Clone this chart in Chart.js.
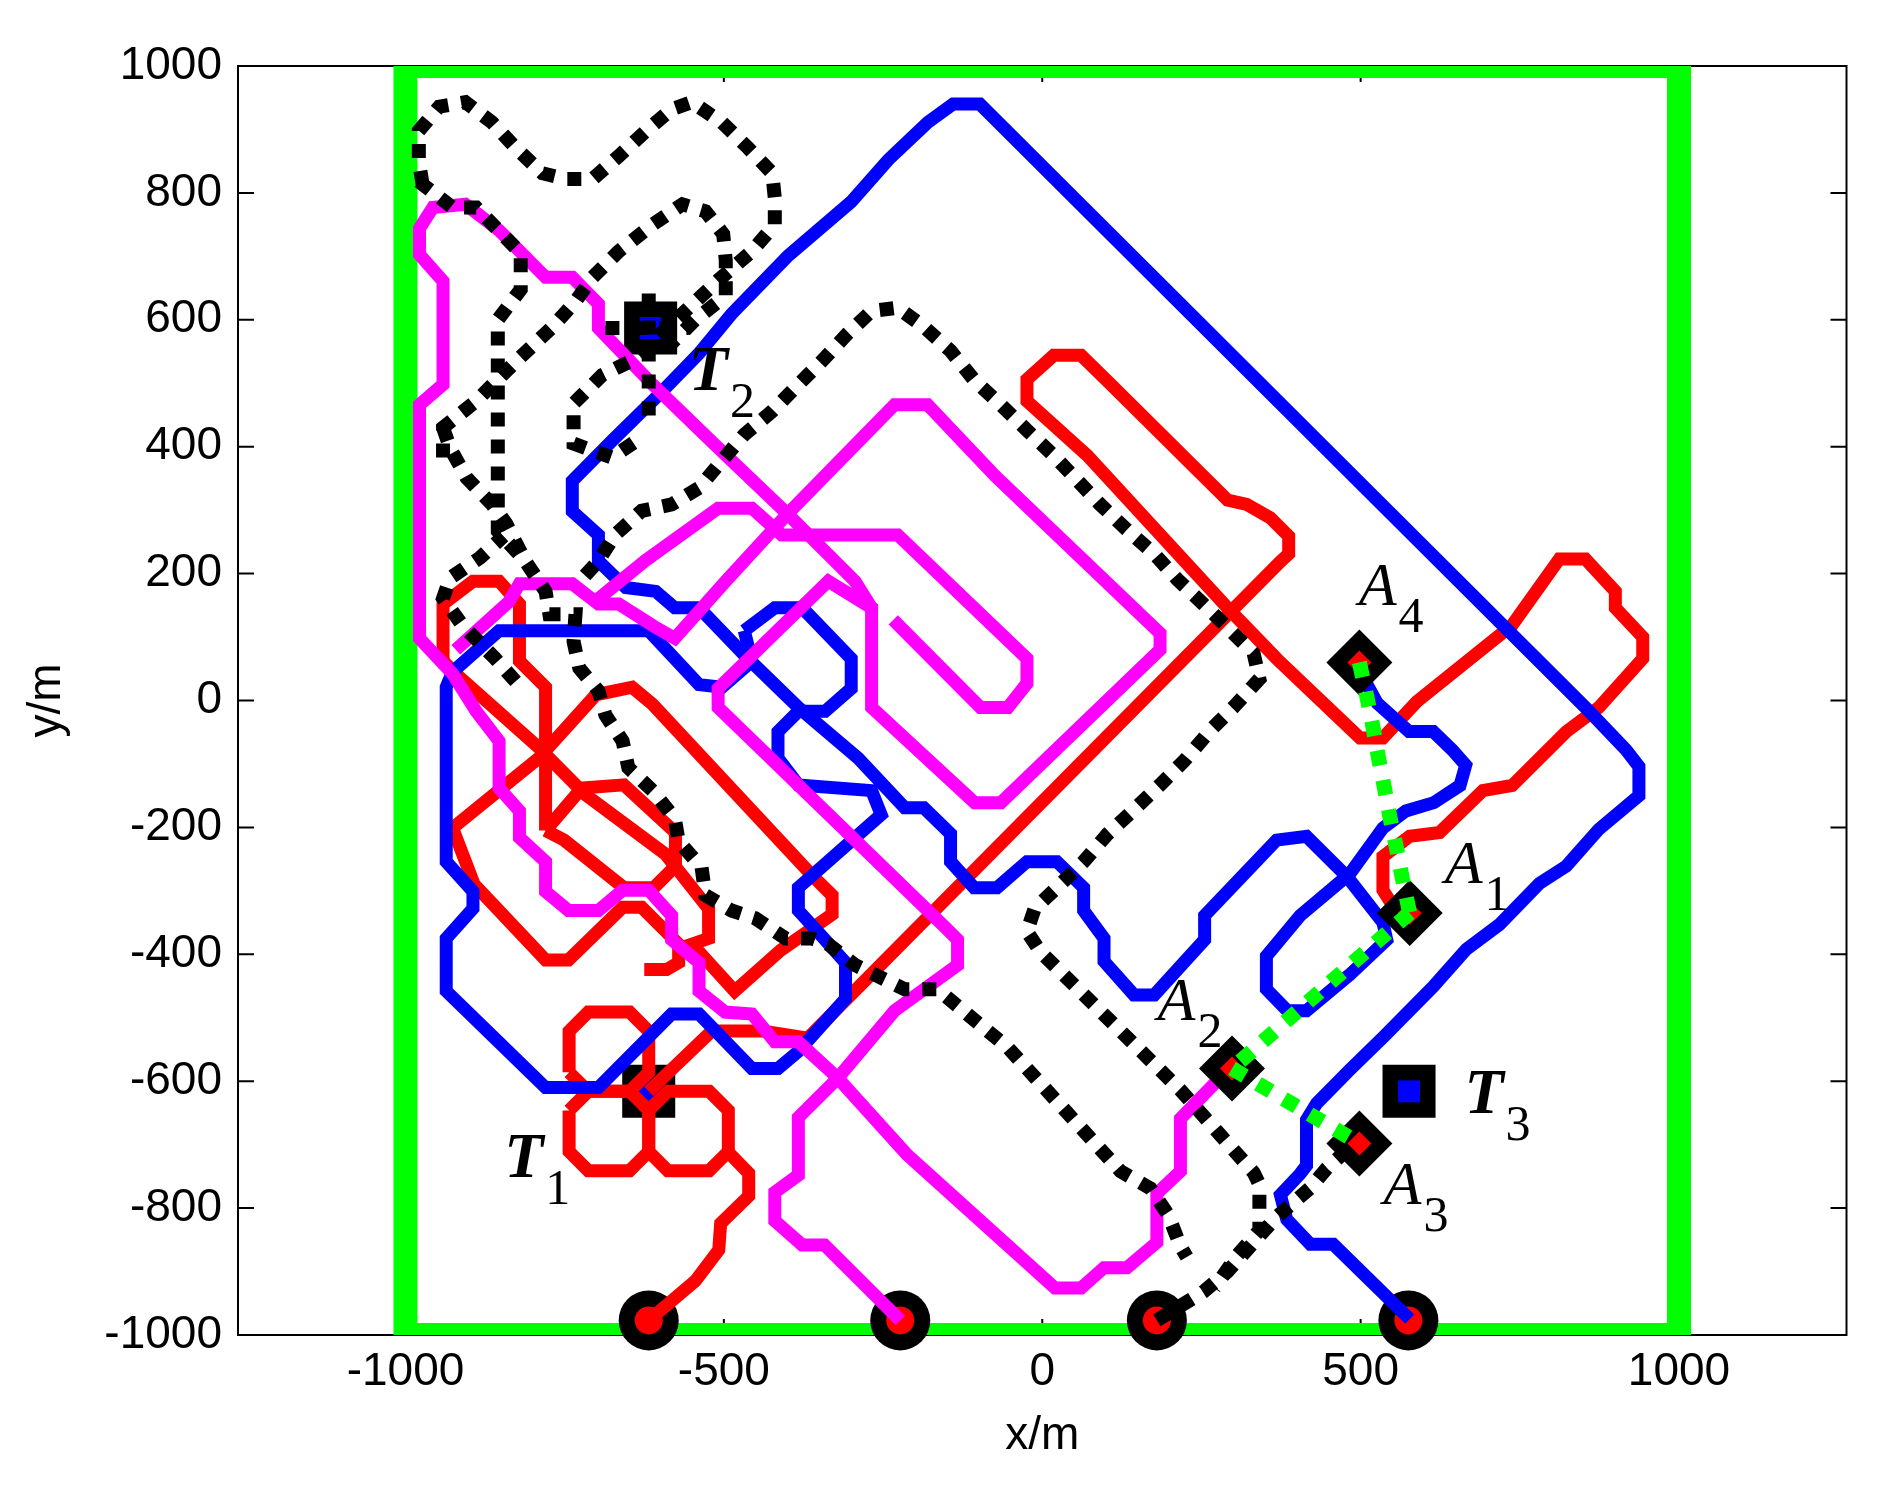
<!DOCTYPE html>
<html>
<head>
<meta charset="utf-8">
<script src="https://cdn.jsdelivr.net/npm/chart.js@4.4.0/dist/chart.umd.min.js"></script>
<style>
  html, body { margin: 0; padding: 0; background: #fff; }
  canvas { display: block; }
</style>
</head>
<body>
<canvas id="plot" width="1884" height="1485"></canvas>
<script>
// axis ticks
const xTicks = [-1000, -500, 0, 500, 1000];
const yTicks = [-1000, -800, -600, -400, -200, 0, 200, 400, 600, 800, 1000];

// search area border
const border = [[-1000,-1000],[1000,-1000],[1000,1000],[-1000,1000],[-1000,-1000]];

// red agent track (pieces)
const redStart = [[-618,-977],[-545,-915],[-508,-866],[-505,-824],[-461,-781],[-461,-745],[-493,-712]];
const redLoopUL = [[-743,-586],[-743,-521],[-713,-491],[-648,-491],[-618,-521],[-618,-586],[-648,-616],[-713,-616],[-743,-586]];
const redLoopLL = [[-743,-646],[-743,-711],[-713,-741],[-648,-741],[-618,-711],[-618,-646],[-648,-616],[-713,-616],[-743,-646]];
const redLoopLR = [[-618,-646],[-618,-711],[-588,-741],[-523,-741],[-493,-711],[-493,-646],[-523,-616],[-588,-616],[-618,-646]];
const redT1 = [[-618,-616],[-519,-521],[-440,-521],[-368,-532]];
const redUpper = [[-941,62],[-941,152],[-894,188],[-853,188],[-821,152],[-821,62],[-780,21],[-780,-174],[-780,-205]];
const redMid = [[-941,62],[-921,42],[-791,-74],[-718,-148],[-592,-242],[-524,-328],[-524,-375],[-550,-384],[-483,-458],[-411,-394],[-368,-364],[-330,-337],[-330,-307],[-362,-275],[-612,-6],[-644,21],[-701,9],[-791,-91],[-926,-201],[-892,-290],[-780,-409],[-744,-409],[-659,-326],[-629,-326],[-571,-384],[-571,-413],[-590,-424],[-625,-424]];
const redOval = [[-780,-205],[-723,-138],[-657,-133],[-576,-208],[-576,-261],[-610,-295],[-657,-295],[-751,-220],[-780,-205]];
const redLong = [[-368,-532],[373,218],[387,231],[387,259],[358,288],[321,309],[291,316],[108,498],[61,544],[18,544],[-24,506],[-24,472],[71,386],[291,146],[368,66],[499,-59],[535,-59],[588,-2],[738,119],[812,223],[853,223],[900,172],[900,146],[943,100],[943,66],[874,-11],[823,-49],[738,-134],[692,-142],[624,-208],[577,-214],[535,-246],[535,-299],[552,-326]];

// blue agent track
const blueMain = [[577,-975],[457,-857],[421,-857],[384,-818],[374,-779],[405,-746],[415,-733],[415,-661],[431,-635],[483,-582],[536,-530],[614,-451],[666,-392],[718,-353],[781,-288],[823,-261],[874,-203],[937,-150],[937,-104],[917,-78],[854,-12],[-98,940],[-140,940],[-180,911],[-242,852],[-300,786],[-399,701],[-488,609],[-540,546],[-602,482],[-676,409],[-738,346],[-738,298],[-697,261],[-697,220],[-654,178],[-607,172],[-577,146],[-539,146],[-468,72],[-383,-11],[-289,-91],[-216,-169],[-186,-169],[-144,-210],[-144,-254],[-107,-295],[-71,-295],[-24,-254],[23,-254],[65,-295],[65,-331],[97,-375],[97,-411],[144,-464],[176,-464],[255,-377],[255,-339],[368,-220],[415,-214],[479,-278],[535,-350],[541,-377],[483,-432],[415,-489],[385,-489],[352,-455],[352,-403],[405,-339],[483,-273],[535,-201],[571,-174],[615,-161],[656,-134],[665,-102],[644,-78],[614,-49],[576,-49],[526,-4],[496,51]];
const blueLeft = [[-468,110],[-420,146],[-377,146],[-300,66],[-300,19],[-341,-17],[-383,-17],[-415,-49],[-415,-91],[-383,-133],[-268,-142],[-253,-180],[-383,-295],[-383,-331],[-353,-364],[-309,-413],[-309,-470],[-383,-553],[-415,-580],[-456,-580],[-539,-494],[-582,-494],[-697,-610],[-780,-610],[-936,-458],[-936,-375],[-894,-328],[-894,-301],[-936,-254],[-936,21],[-926,45],[-853,110],[-618,110],[-539,25],[-503,21],[-456,62],[-468,110]];

// magenta agent track
const magA = [[-223,-977],[-342,-858],[-377,-858],[-420,-820],[-420,-775],[-383,-748],[-383,-657],[-321,-595],[-232,-489],[-133,-417],[-133,-377],[-154,-356],[-509,-11],[-509,19],[-336,188],[-268,146],[-268,-11],[-106,-161],[-65,-161],[185,80],[185,106],[-74,354],[-180,466],[-232,466],[-400,294],[-497,188],[-577,98],[-610,117],[-665,152],[-697,152],[-738,184],[-821,184],[-838,155],[-921,80]];
const magB = [[-268,146],[-294,188],[-400,294],[-514,403],[-612,498],[-697,587],[-697,625],[-738,667],[-780,667],[-853,741],[-906,782],[-957,777],[-978,744],[-978,703],[-941,661],[-941,498],[-978,466],[-978,98],[-926,42],[-889,-17],[-853,-64],[-853,-138],[-821,-174],[-821,-216],[-780,-254],[-780,-301],[-744,-331],[-697,-331],[-659,-299],[-618,-299],[-582,-339],[-582,-377],[-539,-413],[-539,-458],[-498,-491],[-456,-494],[-420,-538],[-383,-538],[-321,-595],[-212,-716],[20,-926],[61,-926],[97,-894],[133,-894],[180,-854],[180,-777],[217,-742],[217,-659],[274,-600],[296,-576]];
const magC = [[-701,157],[-624,220],[-509,303],[-456,303],[-409,261],[-227,261],[-24,66],[-24,27],[-54,-11],[-97,-11],[-234,127]];

// black dotted track
const dotA = [[-973,813],[-979,850],[-979,898],[-947,936],[-906,943],[-864,911],[-827,871],[-785,831],[-748,822],[-706,822],[-665,858],[-624,896],[-582,932],[-550,943],[-503,911],[-462,871],[-424,831],[-420,792],[-420,750],[-456,708],[-508,663],[-555,619],[-605,572],[-648,534],[-691,513],[-736,468],[-736,405],[-701,392],[-676,383],[-629,415]];
const dotB = [[-979,818],[-926,777],[-889,777],[-819,705],[-819,648],[-855,600],[-855,267],[-812,220],[-780,172],[-774,136],[-733,136],[-736,93],[-727,51],[-697,15],[-686,-23],[-659,-64],[-650,-106],[-612,-142],[-577,-186],[-571,-222],[-535,-263],[-529,-307],[-488,-331],[-451,-343],[-403,-375],[-362,-375],[-336,-384],[-294,-417],[-216,-455],[-165,-455],[-54,-547],[123,-742],[170,-769],[198,-811],[217,-860],[227,-877]];
const dotC = [[-718,197],[-697,220],[-671,261],[-629,299],[-582,309],[-539,335],[-509,371],[-468,419],[-424,456],[-383,498],[-347,534],[-306,578],[-268,614],[-227,619],[-186,589],[-144,551],[-106,504],[-65,466],[-24,426],[18,386],[55,347],[91,309],[133,269],[176,231],[212,191],[253,152],[294,112],[332,74],[341,34],[300,-11],[264,-47],[223,-95],[185,-133],[144,-172],[103,-210],[65,-254],[23,-295],[-12,-328],[-24,-364],[-3,-396],[217,-614],[279,-684],[332,-744],[341,-763],[341,-835],[306,-875],[270,-926]];
const dotStart = [[180,-977],[253,-932],[291,-900],[332,-854],[368,-814],[420,-769],[447,-737],[496,-693]];
const dotD = [[-941,383],[-941,430],[-889,472],[-827,534],[-771,587],[-733,629],[-706,667],[-665,708],[-612,750],[-565,782],[-529,771],[-501,735],[-497,693],[-497,638],[-545,600],[-582,563]];
const dotE = [[-941,430],[-930,398],[-904,351],[-864,309],[-842,279],[-812,220]];
const dotF = [[-827,30],[-859,66],[-911,119],[-941,161],[-930,193],[-883,225],[-846,259]];
const dotG = [[-618,449],[-618,648]];
const dotH = [[-686,587],[-555,587]];

// links between agents (green dotted)
const linkA4A1 = [[498,60],[510,5],[520,-45],[528,-90],[537,-136],[546,-184],[556,-231],[565,-278],[577,-335]];
const linkA1A2 = [[577,-335],[298,-580]];
const linkA2A3 = [[298,-580],[498,-698]];

// markers
const startPts = [[-618,-977],[-223,-977],[180,-977],[575,-977]];
const targetPts = [[-618,-616],[-615,587],[576,-616]];
const agentPts = [[577,-335],[298,-580],[498,-698],[498,60]];

// text labels (anchor = left baseline of main letter)
const labelNames = [['T','1'],['T','2'],['T','3'],['A','1'],['A','2'],['A','3'],['A','4']];
const labelPos = [[-845,-751],[-555,489],[663,-650],[632,-287],[181,-503],[536,-794],[497,150]];

const toXY = arr => arr.map(p => ({x: p[0], y: p[1]}));

function track(points, color, order, dash) {
  return {
    data: toXY(points),
    showLine: true,
    borderColor: color,
    borderWidth: dash ? 14 : 13,
    borderDash: dash || [],
    borderCapStyle: 'butt',
    borderJoinStyle: 'miter',
    pointRadius: 0,
    fill: false,
    order: order
  };
}

function marker(points, style, radius, color, order) {
  return {
    data: toXY(points),
    showLine: false,
    pointStyle: style,
    pointRadius: radius,
    pointBackgroundColor: color,
    pointBorderWidth: 0,
    clip: false,
    order: order
  };
}

const datasets = [];
datasets.push(Object.assign(track(border, '#00ff00', 12), {borderWidth: 24, clip: 0}));
[redStart, redLoopUL, redLoopLL, redLoopLR, redT1, redUpper, redMid, redOval, redLong]
  .forEach(p => datasets.push(track(p, '#ff0000', 7)));
[blueMain, blueLeft].forEach(p => datasets.push(track(p, '#0000ff', 6)));
[magA, magB, magC].forEach(p => datasets.push(track(p, '#ff00ff', 5)));
[dotA, dotB, dotC, dotStart, dotD, dotE, dotF, dotG, dotH]
  .forEach(p => datasets.push(track(p, '#000000', 4, [14, 13])));
[linkA4A1, linkA1A2, linkA2A3]
  .forEach(p => datasets.push(Object.assign(track(p, '#00ff00', 1, [15, 15]), {borderWidth: 15})));

datasets.push(marker(startPts, 'circle', 30, '#000000', 9));
datasets.push(marker(startPts, 'circle', 14, '#ff0000', 8));
datasets.push(marker(targetPts, 'rect', 37.5, '#000000', 11));
datasets.push(marker(targetPts, 'rect', 15.5, '#0000ff', 10));
datasets.push(marker(agentPts, 'rectRot', 33, '#000000', 3));
datasets.push(marker(agentPts, 'rectRot', 12, '#ff0000', 2));

const framePlugin = {
  id: 'frame',
  beforeDatasetsDraw(chart) {
    const {ctx, chartArea: a, scales: {x, y}} = chart;
    ctx.save();
    ctx.strokeStyle = '#000';
    ctx.lineWidth = 2;
    ctx.strokeRect(a.left, a.top, a.right - a.left, a.bottom - a.top);
    ctx.beginPath();
    xTicks.forEach(v => {
      const p = x.getPixelForValue(v);
      ctx.moveTo(p, a.bottom); ctx.lineTo(p, a.bottom - 16);
      ctx.moveTo(p, a.top); ctx.lineTo(p, a.top + 16);
    });
    yTicks.forEach(v => {
      const p = y.getPixelForValue(v);
      ctx.moveTo(a.left, p); ctx.lineTo(a.left + 16, p);
      ctx.moveTo(a.right, p); ctx.lineTo(a.right - 16, p);
    });
    ctx.stroke();
    ctx.restore();
  }
};

const labelPlugin = {
  id: 'marklabels',
  afterDatasetsDraw(chart) {
    const {ctx, scales: {x, y}} = chart;
    ctx.save();
    ctx.fillStyle = '#000';
    ctx.textBaseline = 'alphabetic';
    labelNames.forEach((n, i) => {
      const px = x.getPixelForValue(labelPos[i][0]);
      const py = y.getPixelForValue(labelPos[i][1]);
      ctx.font = n[0] === 'T' ? 'italic bold 64px "Liberation Serif", serif' : 'italic 62px "Liberation Serif", serif';
      ctx.fillText(n[0], px, py);
      const w = ctx.measureText(n[0]).width;
      ctx.font = '50px "Liberation Serif", serif';
      ctx.fillText(n[1], px + w + 2, py + 27);
    });
    ctx.restore();
  }
};

const tickFont = {family: '"Liberation Sans", Arial, sans-serif', size: 46};

new Chart(document.getElementById('plot'), {
  type: 'scatter',
  data: {datasets: datasets},
  options: {
    responsive: false,
    animation: false,
    devicePixelRatio: 1,
    layout: {padding: {left: 0, right: 34, top: 66, bottom: 0}},
    plugins: {legend: {display: false}, tooltip: {enabled: false}},
    scales: {
      x: {
        type: 'linear', min: -1263, max: 1263,
        afterBuildTicks: s => { s.ticks = xTicks.map(v => ({value: v})); },
        afterFit: s => { s.height = 150; },
        grid: {display: false, drawTicks: false},
        border: {display: false},
        ticks: {font: tickFont, color: '#000', padding: 10, autoSkip: false, maxRotation: 0, callback: v => String(v)},
        title: {display: true, text: 'x/m', color: '#000', font: tickFont, padding: {top: 0, bottom: 21}}
      },
      y: {
        type: 'linear', min: -1000, max: 1000,
        afterBuildTicks: s => { s.ticks = yTicks.map(v => ({value: v})); },
        afterFit: s => { s.width = 238; },
        grid: {display: false, drawTicks: false},
        border: {display: false},
        ticks: {font: tickFont, color: '#000', padding: 16, autoSkip: false, callback: v => String(v)},
        title: {display: true, text: 'y/m', color: '#000', font: tickFont, padding: {top: 20, bottom: 0}}
      }
    }
  },
  plugins: [framePlugin, labelPlugin]
});
</script>
</body>
</html>
